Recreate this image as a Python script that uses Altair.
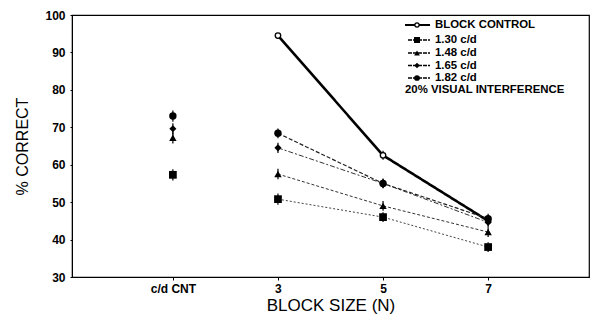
import altair as alt
import pandas as pd

# ---- data ----
x_labels = ["c/d CNT", "3", "5", "7"]
series = ["BLOCK CONTROL", "1.30 c/d", "1.48 c/d", "1.65 c/d", "1.82 c/d"]
control_vals = [None, 94.5, 62.5, 45.0]
c130_vals = [57.3, 50.8, 46.0, 38.0]
c148_vals = [67.2, 57.5, 49.0, 42.0]
c165_vals = [69.6, 64.5, 55.0, 44.6]
c182_vals = [73.0, 68.4, 55.0, 45.6]
err_vals = {
    "BLOCK CONTROL": [None, 0.6, 1.2, 1.2],
    "1.30 c/d": [1.5, 1.5, 1.3, 1.3],
    "1.48 c/d": [1.5, 1.4, 1.3, 1.3],
    "1.65 c/d": [1.5, 1.4, 1.3, 1.3],
    "1.82 c/d": [1.5, 1.3, 1.2, 1.3],
}
legend_note = "20% VISUAL INTERFERENCE"

vals = {
    "BLOCK CONTROL": control_vals,
    "1.30 c/d": c130_vals,
    "1.48 c/d": c148_vals,
    "1.65 c/d": c165_vals,
    "1.82 c/d": c182_vals,
}

rows = []
for s in series:
    for i, lab in enumerate(x_labels):
        v = vals[s][i]
        if v is None:
            continue
        e = err_vals[s][i]
        rows.append({"series": s, "pos": i + 1, "label": lab, "value": v,
                     "lo": v - e, "hi": v + e})
df = pd.DataFrame(rows)

style = {
    "BLOCK CONTROL": dict(shape="circle", filled=False, size=30, dash=[1, 0], sw=2.6, color="#000000"),
    "1.30 c/d": dict(shape="square", filled=True, size=60, dash=[2, 2], sw=1.0, color="#444444"),
    "1.48 c/d": dict(shape="triangle-up", filled=True, size=55, dash=[3, 2], sw=1.0, color="#333333"),
    "1.65 c/d": dict(shape="diamond", filled=True, size=50, dash=[5, 2, 2, 2], sw=1.0, color="#333333"),
    "1.82 c/d": dict(shape="circle", filled=True, size=55, dash=[4, 2], sw=1.2, color="#222222"),
}

FONT = "Liberation Sans"
xscale = alt.Scale(domain=[0.04, 4.96], nice=False, zero=False)
yscale = alt.Scale(domain=[30, 100], nice=False, zero=False)

label_expr = "datum.value == 1 ? 'c/d CNT' : datum.value == 2 ? '3' : datum.value == 3 ? '5' : datum.value == 4 ? '7' : ''"

xaxis = alt.Axis(values=[1, 2, 3, 4], labelExpr=label_expr, title="BLOCK SIZE (N)",
                 grid=False, tickSize=3, tickColor="black", domainColor="black",
                 labelFont=FONT, labelFontWeight="bold", labelFontSize=12, labelColor="black",
                 labelPadding=3, titleFont=FONT, titleFontSize=17, titleFontWeight="normal",
                 titleColor="black", titlePadding=3)
yaxis = alt.Axis(values=[30, 40, 50, 60, 70, 80, 90, 100], title="% CORRECT",
                 grid=False, tickSize=2, tickColor="black", domainColor="black",
                 labelFont=FONT, labelFontWeight="bold", labelFontSize=12, labelColor="black",
                 labelPadding=5, titleFont=FONT, titleFontSize=16, titleFontWeight="normal",
                 titleColor="black", titlePadding=14)

X = alt.X("pos:Q", scale=xscale, axis=xaxis)
Y = alt.Y("value:Q", scale=yscale, axis=yaxis)

layers = []
for s in series:
    st = style[s]
    sub = df[df.series == s]
    base = alt.Chart(sub)
    line = base.transform_filter("datum.pos >= 2").mark_line(
        color=st["color"], strokeWidth=st["sw"], strokeDash=st["dash"]
    ).encode(x=X, y=Y)
    err = base.mark_rule(color="black", strokeWidth=1.2).encode(
        x=X, y=alt.Y("lo:Q", scale=yscale, axis=yaxis), y2="hi:Q")
    pt = base.mark_point(shape=st["shape"], filled=st["filled"], size=st["size"],
                         color="black", fill="black" if st["filled"] else "white",
                         strokeWidth=1.3, opacity=1).encode(x=X, y=Y)
    layers += [line, err, pt]

# manual legend (pixel positions inside the plot area)
one = pd.DataFrame({"a": [0]})
legend_y = [10, 25, 38, 50.5, 63, 75]
LFS = 11.4
for i, s in enumerate(series):
    st = style[s]
    yy = legend_y[i]
    layers.append(alt.Chart(one).mark_rule(color="black", strokeWidth=2.2 if i == 0 else 1.5,
                                           strokeDash=[1, 0] if i == 0 else [4, 1]).encode(
        x=alt.value(333 if i == 0 else 336), x2=alt.value(358), y=alt.value(yy)))
    layers.append(alt.Chart(one).mark_point(shape=st["shape"], filled=st["filled"],
                                            size=st["size"] * 0.6, color="black",
                                            fill="black" if st["filled"] else "white",
                                            strokeWidth=1.2, opacity=1).encode(
        x=alt.value(345), y=alt.value(yy)))
    layers.append(alt.Chart(pd.DataFrame({"t": [s]})).mark_text(
        align="left", baseline="middle", font=FONT, fontSize=LFS, fontWeight="bold",
        color="black").encode(x=alt.value(363), y=alt.value(yy), text="t:N"))
layers.append(alt.Chart(pd.DataFrame({"t": [legend_note]})).mark_text(
    align="left", baseline="middle", font=FONT, fontSize=LFS, fontWeight="bold",
    color="black").encode(x=alt.value(333), y=alt.value(legend_y[5]), text="t:N"))

chart = alt.layer(*layers).properties(
    width=517, height=262,
    autosize=alt.AutoSizeParams(type="none"),
    padding={"left": 72, "top": 15, "right": 3, "bottom": 49},
    background="white",
).configure_view(stroke="black", strokeWidth=1.2)

chart.save("out.html", embed_options={"renderer": "svg", "actions": False})
